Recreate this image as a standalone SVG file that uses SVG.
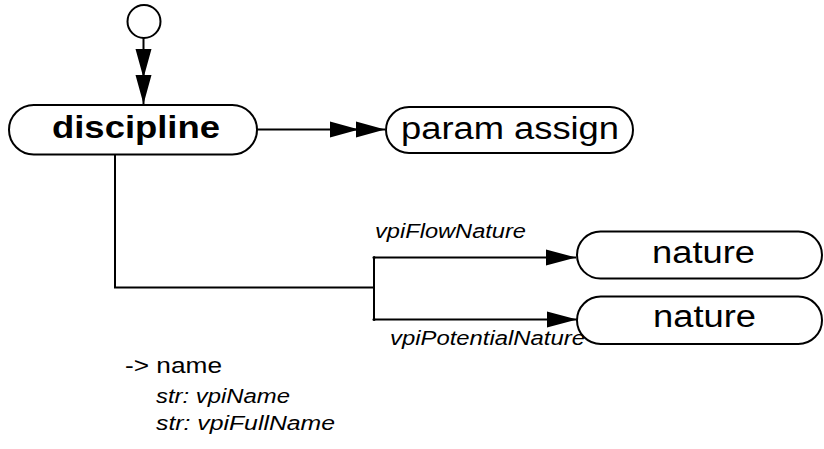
<svg xmlns="http://www.w3.org/2000/svg" width="824" height="449" viewBox="0 0 824 449">
<style>
.node{fill:#fff;stroke:#000;stroke-width:2}
.ln{fill:none;stroke:#000;stroke-width:2}
.big{font-family:"Liberation Sans",Arial,sans-serif;font-size:31px;fill:#000}
.bold{font-weight:bold;font-size:32px}
.lbl{font-family:"Liberation Sans",Arial,sans-serif;font-style:italic;font-size:20px;fill:#000}
.txt{font-family:"Liberation Sans",Arial,sans-serif;font-size:22px;fill:#000}
</style>
<defs>
<marker id="dbl" markerUnits="userSpaceOnUse" markerWidth="56" markerHeight="18" viewBox="0 -9 56 18" refX="55" refY="0" orient="auto">
<path d="M0,-8 L29,0 L0,8 Z M26,-8 L55,0 L26,8 Z" fill="#000"/>
</marker>
<marker id="one" markerUnits="userSpaceOnUse" markerWidth="31" markerHeight="18" viewBox="0 -9 31 18" refX="30" refY="0" orient="auto">
<path d="M0,-8 L30,0 L0,8 Z" fill="#000"/>
</marker>
</defs>
<g id="connectors">
<path class="ln" d="M143.5,38 V104" marker-end="url(#dbl)"/>
<path class="ln" d="M257,129.5 H385" marker-end="url(#dbl)"/>
<path class="ln" d="M115,154.5 V287.5 H374"/>
<path class="ln" d="M374,257.5 V319.5"/>
<path class="ln" d="M374,257.5 H576" marker-end="url(#one)"/>
<path class="ln" d="M374,319.5 H577" marker-end="url(#one)"/>
<circle cx="374" cy="257.5" r="1.5" fill="#000"/>
<circle cx="374" cy="319.5" r="1.5" fill="#000"/>
<text class="lbl" x="375" y="238" textLength="151" lengthAdjust="spacingAndGlyphs">vpiFlowNature</text>
<text class="lbl" x="390" y="344.5" textLength="195" lengthAdjust="spacingAndGlyphs">vpiPotentialNature</text>
</g>
<g id="start">
<circle cx="144" cy="21.5" r="16.5" fill="#fff" stroke="#000" stroke-width="2"/>
</g>
<g id="discipline">
<rect class="node" x="9" y="105" width="248" height="49.5" rx="24.75"/>
<text class="big bold" x="52" y="137.5" textLength="168" lengthAdjust="spacingAndGlyphs">discipline</text>
</g>
<g id="param_assign">
<rect class="node" x="386" y="107" width="247" height="46" rx="23"/>
<text class="big" x="401" y="138.5" textLength="218" lengthAdjust="spacingAndGlyphs">param assign</text>
</g>
<g id="nature1">
<rect class="node" x="577" y="231.5" width="245" height="47" rx="23.5"/>
<text class="big" x="652" y="262.5" textLength="103" lengthAdjust="spacingAndGlyphs">nature</text>
</g>
<g id="nature2">
<rect class="node" x="577" y="296.5" width="245" height="47.5" rx="23.75"/>
<text class="big" x="653" y="326.5" textLength="103" lengthAdjust="spacingAndGlyphs">nature</text>
</g>
<g id="properties">
<text class="txt" x="125" y="373.3" textLength="97" lengthAdjust="spacingAndGlyphs">-&gt; name</text>
<text class="lbl" x="156" y="403.3" textLength="134" lengthAdjust="spacingAndGlyphs">str: vpiName</text>
<text class="lbl" x="156" y="430" textLength="179" lengthAdjust="spacingAndGlyphs">str: vpiFullName</text>
</g>
</svg>
